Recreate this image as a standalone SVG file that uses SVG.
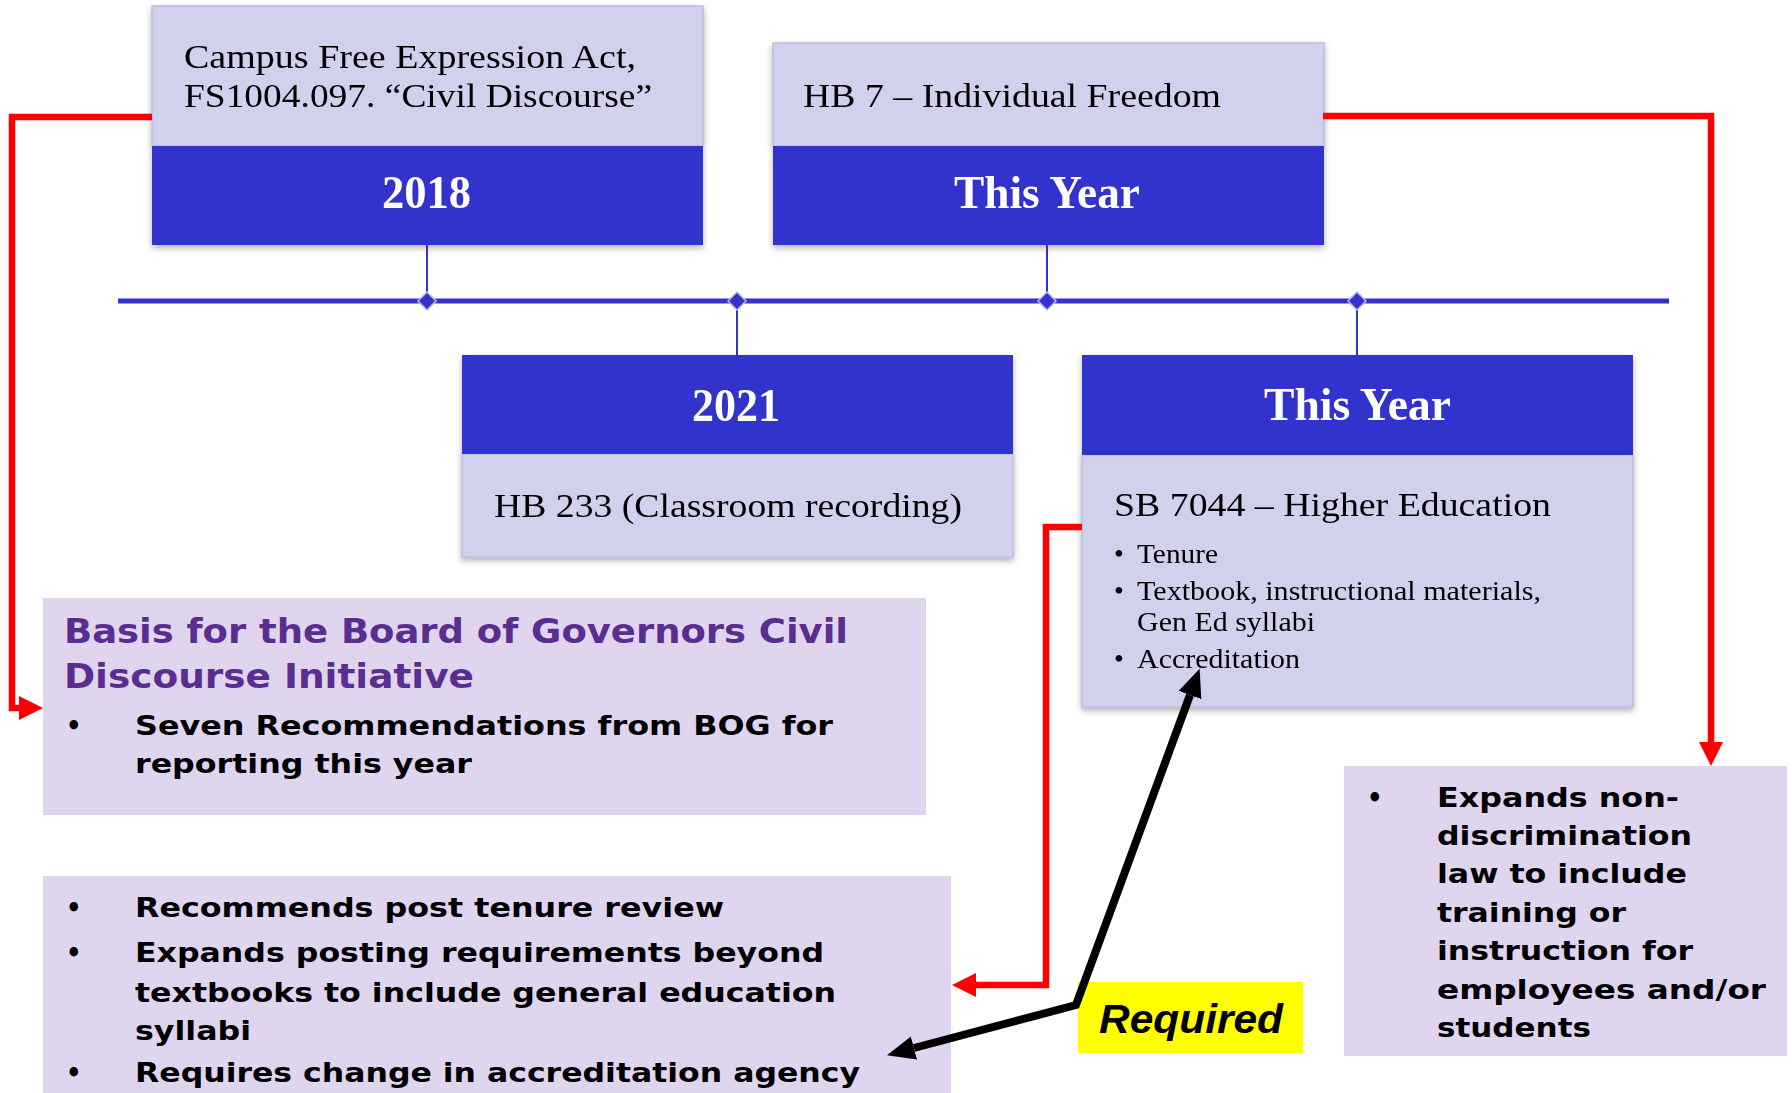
<svg xmlns="http://www.w3.org/2000/svg" width="1792" height="1093" viewBox="0 0 1792 1093">
<defs>
<style>
.light{fill:#D1D1EE;stroke:#BDBDDF;stroke-width:1.5}
.dark{fill:#3333CC}
.serif{font-family:"Liberation Serif","Times New Roman",serif;fill:#000}
.year{font-family:"Liberation Serif","Times New Roman",serif;font-weight:bold;font-size:46px;fill:#fff}
.purple{fill:#DFD5EE}
.sans{font-family:"DejaVu Sans Condensed","DejaVu Sans",Verdana,sans-serif;font-weight:bold;font-stretch:condensed}
.title{fill:#5A2D91;font-size:33px}
.blt{fill:#000;font-size:27px}
.req{font-family:"Liberation Sans",Arial,sans-serif;font-weight:bold;font-style:italic;font-size:41px;fill:#000}
.tl{stroke:#3333CC;fill:none}
.red{stroke:#FF0000;stroke-width:6.5;fill:none}
.blk{stroke:#000;stroke-width:8;fill:none;stroke-linejoin:miter}
</style>
<filter id="sh" x="-5%" y="-5%" width="110%" height="120%">
<feDropShadow dx="0" dy="3" stdDeviation="3" flood-color="#000" flood-opacity="0.3"/>
</filter>
<marker id="ra" markerUnits="userSpaceOnUse" markerWidth="26" markerHeight="26" refX="0" refY="12" orient="auto" viewBox="0 0 26 26">
<path d="M0,0 L24,12 L0,24 Z" fill="#FF0000"/>
</marker>
<marker id="ba" markerUnits="userSpaceOnUse" markerWidth="30" markerHeight="26" refX="0" refY="12" orient="auto-start-reverse" viewBox="0 0 30 26">
<path d="M0,0 L28,12 L0,24 Z" fill="#000"/>
</marker>
</defs>
<rect width="1792" height="1093" fill="#fff"/>

<g id="node-2018" filter="url(#sh)">
<rect class="light" x="152" y="6" width="551" height="140"/>
<rect class="dark" x="152" y="146" width="551" height="99"/>
<text class="serif" font-size="34" x="184" y="68" textLength="452" lengthAdjust="spacingAndGlyphs">Campus Free Expression Act,</text>
<text class="serif" font-size="34" x="184" y="107" textLength="468" lengthAdjust="spacingAndGlyphs">FS1004.097. “Civil Discourse”</text>
<text class="year" x="382" y="208" textLength="89" lengthAdjust="spacingAndGlyphs">2018</text>
</g>

<g id="node-hb7" filter="url(#sh)">
<rect class="light" x="773" y="43" width="551" height="103"/>
<rect class="dark" x="773" y="146" width="551" height="99"/>
<text class="serif" font-size="34" x="803" y="107" textLength="418" lengthAdjust="spacingAndGlyphs">HB 7 – Individual Freedom</text>
<text class="year" x="954" y="208" textLength="186" lengthAdjust="spacingAndGlyphs">This Year</text>
</g>

<g id="node-2021" filter="url(#sh)">
<rect class="light" x="462" y="454" width="551" height="103"/>
<rect class="dark" x="462" y="355" width="551" height="99"/>
<text class="year" x="692" y="421" textLength="88" lengthAdjust="spacingAndGlyphs">2021</text>
<text class="serif" font-size="34" x="494" y="517" textLength="468" lengthAdjust="spacingAndGlyphs">HB 233 (Classroom recording)</text>
</g>

<g id="node-sb7044" filter="url(#sh)">
<rect class="light" x="1082" y="455" width="551" height="252"/>
<rect class="dark" x="1082" y="355" width="551" height="100"/>
<text class="year" x="1264" y="420" textLength="187" lengthAdjust="spacingAndGlyphs">This Year</text>
<text class="serif" font-size="34" x="1114" y="516" textLength="437" lengthAdjust="spacingAndGlyphs">SB 7044 – Higher Education</text>
<g class="serif" font-size="28">
<text x="1114" y="563">•</text>
<text x="1137" y="563" textLength="81" lengthAdjust="spacingAndGlyphs">Tenure</text>
<text x="1114" y="600">•</text>
<text x="1137" y="600" textLength="404" lengthAdjust="spacingAndGlyphs">Textbook, instructional materials,</text>
<text x="1137" y="631" textLength="178" lengthAdjust="spacingAndGlyphs">Gen Ed syllabi</text>
<text x="1114" y="668">•</text>
<text x="1137" y="668" textLength="163" lengthAdjust="spacingAndGlyphs">Accreditation</text>
</g>
</g>

<g id="node-basis">
<rect class="purple" x="43" y="598" width="883" height="217"/>
<g class="sans title">
<text x="64" y="643" textLength="784" lengthAdjust="spacingAndGlyphs">Basis for the Board of Governors Civil</text>
<text x="64" y="688" textLength="410" lengthAdjust="spacingAndGlyphs">Discourse Initiative</text>
</g>
<g class="sans blt">
<text x="66" y="735">•</text>
<text x="135" y="735" textLength="698" lengthAdjust="spacingAndGlyphs">Seven Recommendations from BOG for</text>
<text x="135" y="773" textLength="337" lengthAdjust="spacingAndGlyphs">reporting this year</text>
</g>
</g>

<g id="node-recommends">
<rect class="purple" x="43" y="876" width="908" height="230"/>
<g class="sans blt">
<text x="66" y="917">•</text>
<text x="135" y="917" textLength="589" lengthAdjust="spacingAndGlyphs">Recommends post tenure review</text>
<text x="66" y="962">•</text>
<text x="135" y="962" textLength="689" lengthAdjust="spacingAndGlyphs">Expands posting requirements beyond</text>
<text x="135" y="1002" textLength="701" lengthAdjust="spacingAndGlyphs">textbooks to include general education</text>
<text x="135" y="1040" textLength="116" lengthAdjust="spacingAndGlyphs">syllabi</text>
<text x="66" y="1082">•</text>
<text x="135" y="1082" textLength="725" lengthAdjust="spacingAndGlyphs">Requires change in accreditation agency</text>
</g>
</g>

<g id="node-expands">
<rect class="purple" x="1344" y="766" width="443" height="290"/>
<g class="sans blt">
<text x="1367" y="807">•</text>
<text x="1437" y="807" textLength="242" lengthAdjust="spacingAndGlyphs">Expands non-</text>
<text x="1437" y="845" textLength="255" lengthAdjust="spacingAndGlyphs">discrimination</text>
<text x="1437" y="883" textLength="250" lengthAdjust="spacingAndGlyphs">law to include</text>
<text x="1437" y="922" textLength="189" lengthAdjust="spacingAndGlyphs">training or</text>
<text x="1437" y="960" textLength="256" lengthAdjust="spacingAndGlyphs">instruction for</text>
<text x="1437" y="999" textLength="329" lengthAdjust="spacingAndGlyphs">employees and/or</text>
<text x="1437" y="1037" textLength="154" lengthAdjust="spacingAndGlyphs">students</text>
</g>
</g>

<g id="node-required">
<rect x="1078" y="982" width="225" height="71" fill="#FFFF00"/>
<text class="req" x="1099" y="1033" textLength="184" lengthAdjust="spacingAndGlyphs">Required</text>
</g>

<g id="connectors">
<line class="tl" x1="118" y1="301" x2="1669" y2="301" stroke-width="5"/>
<line class="tl" x1="427" y1="245" x2="427" y2="301" stroke-width="2"/>
<line class="tl" x1="1047" y1="245" x2="1047" y2="301" stroke-width="2"/>
<line class="tl" x1="737" y1="301" x2="737" y2="355" stroke-width="2"/>
<line class="tl" x1="1357" y1="301" x2="1357" y2="355" stroke-width="2"/>
<g fill="#3333CC" stroke="#B8B8E8" stroke-width="1.5">
<path d="M427,292 L436,301 L427,310 L418,301 Z"/>
<path d="M737,292 L746,301 L737,310 L728,301 Z"/>
<path d="M1047,292 L1056,301 L1047,310 L1038,301 Z"/>
<path d="M1357,292 L1366,301 L1357,310 L1348,301 Z"/>
</g>
<polyline class="red" points="152,117 12,117 12,708 19,708" marker-end="url(#ra)"/>
<polyline class="red" points="1323,116 1711,116 1711,742" marker-end="url(#ra)"/>
<polyline class="red" points="1082,527 1046,527 1046,985 976,985" marker-end="url(#ra)"/>
<polyline class="blk" points="1190,695 1076,1005 914,1048" marker-start="url(#ba)" marker-end="url(#ba)"/>
</g>
</svg>
